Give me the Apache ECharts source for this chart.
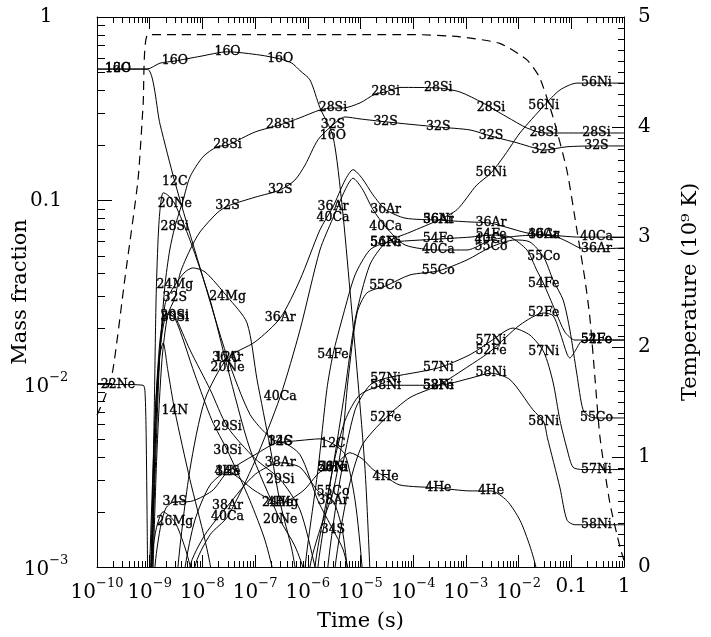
<!DOCTYPE html>
<html><head><meta charset="utf-8">
<script src="https://cdn.jsdelivr.net/npm/echarts@6/dist/echarts.min.js"></script>
<style>html,body{margin:0;padding:0;background:#fff}#c{width:711px;height:637px}</style>
</head><body><div id="c"></div>
<script>
// ---- data: [time (s), mass fraction] ----
const he4 = [[4e-9,0.0006],[4.7e-9,0.001],[7.2e-9,0.0018],[1.4e-8,0.0028],[3e-8,0.0033],[1e-7,0.0026],[3e-7,0.00223],[8.1e-7,0.0026],[1.7e-6,0.0033],[3e-6,0.0035],[6.3e-6,0.0042],[1.07e-5,0.0039],[1.73e-5,0.0034],[3e-5,0.0031],[5.6e-5,0.0028],[3e-4,0.0027],[1.2e-3,0.0026],[3e-3,0.0026],[6e-3,0.0023],[1.06e-2,0.0018],[1.64e-2,0.0013],[2.2e-2,0.00096],[2.8e-2,0.0006]];
const c12 = [[1e-10,0.52],[2.5e-10,0.52],[8.9e-10,0.52],[1.57e-9,0.26],[3e-9,0.126],[9e-9,0.043],[3e-8,0.0138],[8e-8,0.0068],[1.9e-7,0.0051],[3e-7,0.0048],[7.1e-7,0.0049],[1.7e-6,0.005],[3e-6,0.0047],[5.1e-6,0.0041],[7.9e-6,0.0023],[1.07e-5,0.001],[1.3e-5,0.0004]];
const n14 = [[9.3e-10,0.0003],[1e-9,0.001],[1.26e-9,0.0063],[1.5e-9,0.0135],[1.8e-9,0.0167],[2.2e-9,0.0119],[3e-9,0.0071],[5.8e-9,0.003],[1.12e-8,0.0014],[1.52e-8,0.0009],[1.8e-8,0.0005]];
const o16 = [[1e-10,0.52],[2.5e-10,0.52],[8.9e-10,0.52],[1.57e-9,0.56],[3e-9,0.575],[9e-9,0.61],[3e-8,0.646],[1.24e-7,0.62],[3e-7,0.59],[5e-7,0.56],[7.1e-7,0.51],[1.1e-6,0.454],[1.7e-6,0.32],[3e-6,0.224],[4.5e-6,0.092],[6.3e-6,0.0324],[8.9e-6,0.0105],[1.22e-5,0.0034],[1.5e-5,0.001],[1.7e-5,0.0004]];
const ne20 = [[9.3e-10,0.0003],[1.06e-9,0.001],[1.21e-9,0.0063],[1.32e-9,0.0286],[1.44e-9,0.0608],[1.57e-9,0.089],[1.8e-9,0.110],[2.2e-9,0.107],[3e-9,0.0955],[5.8e-9,0.0608],[1.4e-8,0.0286],[3e-8,0.0122],[8e-8,0.0044],[3e-7,0.0018],[5.7e-7,0.0013],[8.9e-7,0.0009],[1.1e-6,0.0005]];
const ne22 = [[1e-10,0.0099],[2.5e-10,0.0099],[7.5e-10,0.0098],[8.1e-10,0.0092],[8.5e-10,0.006],[8.9e-10,0.002],[9.3e-10,0.0005]];
const mg24 = [[9.3e-10,0.0003],[1.1e-9,0.001],[1.26e-9,0.0044],[1.44e-9,0.0105],[1.95e-9,0.027],[3e-9,0.0345],[4.7e-9,0.0407],[6.6e-9,0.0428],[1.12e-8,0.0407],[3e-8,0.0297],[7e-8,0.0215],[1.09e-7,0.0105],[1.9e-7,0.0046],[3e-7,0.00223],[5e-7,0.00124],[6.5e-7,0.0008]];
const mg26 = [[9.5e-10,0.0003],[1.06e-9,0.001],[1.32e-9,0.0016],[1.8e-9,0.002],[3e-9,0.00176],[4.7e-9,0.00127],[6.4e-9,0.0009],[8e-9,0.0005]];
const si28 = [[9.5e-10,0.0002],[1.1e-9,0.001],[1.32e-9,0.0044],[1.57e-9,0.0153],[1.95e-9,0.0345],[2.4e-9,0.0536],[3e-9,0.0716],[4.3e-9,0.10],[5.8e-9,0.134],[1.03e-8,0.173],[1.9e-8,0.196],[3e-8,0.20],[1e-7,0.236],[3e-7,0.258],[7.1e-7,0.282],[1.7e-6,0.311],[3e-6,0.319],[4.7e-6,0.319],[9.8e-6,0.34],[1.9e-5,0.38],[3e-5,0.39],[5.6e-5,0.413],[3e-4,0.41],[7.7e-4,0.39],[2.1e-3,0.34],[3e-3,0.32],[6e-3,0.285],[1.44e-2,0.248],[3e-2,0.233],[6.1e-2,0.233],[0.3,0.233],[1,0.233]];
const si29 = [[9.5e-10,0.0002],[1.1e-9,0.001],[1.32e-9,0.0063],[1.57e-9,0.0153],[1.95e-9,0.0228],[2.4e-9,0.0246],[3e-9,0.0234],[5.8e-9,0.0153],[1.4e-8,0.0093],[3e-8,0.0058],[1e-7,0.0039],[3e-7,0.003],[7.1e-7,0.00205],[1.37e-6,0.001],[1.7e-6,0.0007]];
const si30 = [[9.3e-10,0.0002],[1.06e-9,0.001],[1.26e-9,0.0063],[1.57e-9,0.0173],[2.04e-9,0.024],[3e-9,0.0228],[7.2e-9,0.0112],[1.52e-8,0.0063],[3e-8,0.0043],[8e-8,0.0023],[1.54e-7,0.0014],[2.4e-7,0.00085],[3e-7,0.0006]];
const s32 = [[1e-9,0.0002],[1.16e-9,0.001],[1.38e-9,0.0044],[1.71e-9,0.0135],[2.2e-9,0.0237],[3e-9,0.0294],[3.8e-9,0.0402],[5.8e-9,0.0536],[9e-9,0.0672],[1.9e-8,0.0853],[3e-8,0.093],[1e-7,0.104],[3e-7,0.114],[5.7e-7,0.129],[8.9e-7,0.156],[1.56e-6,0.214],[3e-6,0.258],[5.1e-6,0.285],[9.8e-6,0.278],[3e-5,0.268],[3e-4,0.251],[1.2e-3,0.242],[3e-3,0.224],[9.3e-3,0.206],[1.87e-2,0.194],[3e-2,0.188],[8.3e-2,0.196],[0.3,0.198],[1,0.198]];
const s34 = [[1.1e-9,0.0003],[1.26e-9,0.001],[1.57e-9,0.0016],[2.04e-9,0.0021],[3e-9,0.00227],[5.3e-9,0.00227],[1.52e-8,0.0026],[3e-8,0.0033],[1e-7,0.0041],[3e-7,0.0048],[7.1e-7,0.0041],[1.56e-6,0.0023],[3e-6,0.0016],[4.7e-6,0.00124],[6.3e-6,0.00085],[8e-6,0.0005]];
const ar36 = [[2.8e-9,0.0003],[3.44e-9,0.001],[5.8e-9,0.0034],[1.12e-8,0.0082],[3e-8,0.0138],[1e-7,0.0169],[3e-7,0.0228],[7.1e-7,0.0368],[1.7e-6,0.069],[3e-6,0.092],[5.1e-6,0.129],[7.2e-6,0.147],[1.07e-5,0.132],[1.73e-5,0.107],[3e-5,0.089],[7e-5,0.08],[3e-4,0.078],[1.2e-3,0.0762],[3e-3,0.075],[1.44e-2,0.0664],[3e-2,0.0647],[5.4e-2,0.063],[9.4e-2,0.0586],[0.146,0.055],[0.3,0.0543],[1,0.055]];
const ar38 = [[4.5e-9,0.0003],[5.8e-9,0.001],[1.12e-8,0.0015],[3e-8,0.00215],[1e-7,0.0032],[3e-7,0.0037],[7.1e-7,0.0035],[1.56e-6,0.0026],[3e-6,0.0023],[4.5e-6,0.0016],[5.8e-6,0.0009],[7e-6,0.0005]];
const ca40 = [[5.5e-9,0.0003],[7.2e-9,0.001],[1.4e-8,0.0015],[3e-8,0.00188],[1e-7,0.0038],[3e-7,0.0085],[7.1e-7,0.0196],[1.7e-6,0.0536],[3e-6,0.080],[5.1e-6,0.114],[7.2e-6,0.132],[1.07e-5,0.116],[1.73e-5,0.089],[3e-5,0.0716],[7e-5,0.0571],[3e-4,0.0536],[1.05e-3,0.0536],[3e-3,0.0608],[1.06e-2,0.064],[3e-2,0.0647],[0.146,0.063],[0.3,0.063],[1,0.063]];
const fe52 = [[2.8e-6,0.0004],[3.3e-6,0.001],[5.8e-6,0.0026],[1.07e-5,0.0046],[3e-5,0.0065],[8.7e-5,0.0084],[3e-4,0.0098],[1.2e-3,0.0126],[3e-3,0.0151],[1.06e-2,0.0209],[3e-2,0.0243],[4.5e-2,0.0235],[6.1e-2,0.019],[8.3e-2,0.0145],[9.4e-2,0.0138],[0.117,0.015],[0.16,0.0171],[0.3,0.0173],[1,0.0173]];
const fe54 = [[7.5e-7,0.0004],[8.9e-7,0.001],[1.56e-6,0.0034],[2.3e-6,0.0093],[3e-6,0.0144],[4.7e-6,0.0237],[7.9e-6,0.0392],[1.5e-5,0.0536],[3e-5,0.0586],[3e-4,0.0615],[1.2e-3,0.063],[3e-3,0.0647],[6.9e-3,0.063],[1.44e-2,0.0536],[2.2e-2,0.0417],[3e-2,0.035],[4.9e-2,0.0252],[7.6e-2,0.0191],[0.117,0.0173],[0.3,0.0173],[1,0.0173]];
const co55 = [[9e-7,0.0004],[1.1e-6,0.001],[1.7e-6,0.0016],[3e-6,0.00256],[4.5e-6,0.0049],[5.8e-6,0.0105],[8.6e-6,0.0243],[1.33e-5,0.0313],[3e-5,0.0341],[8.7e-5,0.0392],[3e-4,0.0412],[1.05e-3,0.0473],[3e-3,0.0557],[8.5e-3,0.0608],[1.64e-2,0.0593],[3e-2,0.049],[4.5e-2,0.0368],[7e-2,0.0286],[9.4e-2,0.0196],[0.128,0.0112],[0.167,0.0072],[0.226,0.0066],[0.3,0.0065],[1,0.0065]];
const ni56 = [[1.2e-6,0.0004],[1.37e-6,0.001],[2.1e-6,0.00205],[3e-6,0.0035],[5.1e-6,0.0093],[7.9e-6,0.0223],[1.5e-5,0.0444],[3e-5,0.0586],[8.7e-5,0.067],[3e-4,0.078],[6.8e-4,0.089],[1.6e-3,0.121],[3e-3,0.141],[5.5e-3,0.177],[1.06e-2,0.233],[3e-2,0.327],[6.1e-2,0.40],[0.128,0.436],[0.3,0.436],[1,0.436]];
const ni57 = [[2e-6,0.0004],[2.4e-6,0.001],[4.1e-6,0.003],[7.9e-6,0.0072],[1.5e-5,0.0098],[3e-5,0.0107],[3e-4,0.0122],[1.2e-3,0.0144],[3e-3,0.0171],[7.8e-3,0.0201],[1.64e-2,0.0184],[3e-2,0.0149],[4.5e-2,0.0102],[6.1e-2,0.0063],[8.3e-2,0.0044],[0.108,0.0035],[0.167,0.0034],[0.3,0.0034],[1,0.0034]];
const ni58 = [[1.3e-6,0.0004],[1.56e-6,0.001],[2.1e-6,0.0018],[3e-6,0.0035],[5.1e-6,0.0063],[9.8e-6,0.0087],[3e-5,0.0098],[3e-4,0.0098],[1.2e-3,0.0107],[3e-3,0.0114],[6.9e-3,0.0105],[1.87e-2,0.0072],[3e-2,0.0062],[3.5e-2,0.0051],[6.1e-2,0.0027],[8.3e-2,0.0018],[0.117,0.0017],[0.3,0.0017],[1,0.0017]];
// temperature, 10^9 K
const temperature = [[1e-10,1.38],[1.42e-10,1.55],[2.0e-10,1.79],[3.4e-10,2.63],[6.0e-10,3.52],[7.5e-10,4.2],[9.3e-10,4.84],[1e-4,4.84],[7.7e-4,4.82],[4.4e-3,4.76],[1.44e-2,4.61],[2.5e-2,4.45],[4.5e-2,4.09],[8.3e-2,3.6],[0.128,3.06],[0.182,2.61],[0.226,2.26],[0.28,1.73],[0.35,1.18],[0.54,0.58],[0.84,0.18],[1,0.06]];

const speciesNames = ['4He','12C','14N','16O','20Ne','22Ne','24Mg','26Mg','28Si','29Si','30Si','32S','34S','36Ar','38Ar','40Ca','52Fe','54Fe','55Co','56Ni','57Ni','58Ni'];
const speciesData  = [he4,c12,n14,o16,ne20,ne22,mg24,mg26,si28,si29,si30,s32,s34,ar36,ar38,ca40,fe52,fe54,co55,ni56,ni57,ni58];
const labelTimes = [2.5e-10,3e-9,3e-8,3e-7,3e-6,3e-5,3e-4,3e-3,3e-2,0.3];
const tempTicks = [0,1,2,3,4,5];

// ---- chart ----
const FONT = 'DejaVu Serif';
const chart = echarts.init(document.getElementById('c'));
function expLabel(v){
  const e = Math.round(Math.log10(v));
  if (e === 0) return '1';
  if (e === -1) return '0.1';
  return '{b|10}{s|\u2212' + (-e) + '}';
}
const rich = {
  b:{fontFamily:FONT,fontSize:20,lineHeight:26,verticalAlign:'bottom',color:'#000'},
  s:{fontFamily:FONT,fontSize:13,lineHeight:13,verticalAlign:'top',color:'#000'}
};
const series = [];
speciesData.forEach((d,i)=>{
  series.push({type:'line',name:speciesNames[i],data:d,showSymbol:false,smooth:0.25,
    lineStyle:{color:'#000',width:1},silent:true,z:2,xAxisIndex:0,yAxisIndex:0});
});
const labelPts = [];
speciesData.forEach((d,i)=>{
  d.forEach(p=>{ if (labelTimes.includes(p[0]) && p[1] > 0.0011) labelPts.push({value:p,name:speciesNames[i]}); });
});
series.push({type:'scatter',data:labelPts,symbol:'circle',symbolSize:1,itemStyle:{color:'rgba(0,0,0,0)'},silent:true,z:4,
  xAxisIndex:0,yAxisIndex:0,
  label:{show:true,position:'inside',formatter:p=>p.name,fontFamily:FONT,fontSize:12.5,color:'#000',
    textBorderWidth:0.35,textBorderColor:'#000',opacity:1,align:'center',verticalAlign:'middle'},
  labelLayout:{hideOverlap:false}});
series.push({type:'line',name:'T',data:temperature,xAxisIndex:0,yAxisIndex:1,showSymbol:false,smooth:0.2,silent:true,z:3,
  lineStyle:{color:'#000',width:1.2,type:[9,6]}});
// log minor ticks
const xMinor=[], yMinor=[];
for (let e=-10;e<0;e++) for (let k=2;k<10;k++) xMinor.push(+(k+'e'+e));
for (let e=-3;e<0;e++) for (let k=2;k<10;k++) yMinor.push(+(k+'e'+e));
series.push({type:'custom',silent:true,clip:false,z:6,xAxisIndex:0,yAxisIndex:0,data:xMinor.map(v=>[v,0.01]),
  renderItem:(params,api)=>{const cs=params.coordSys;const x=Math.round(api.coord([api.value(0),api.value(1)])[0])+0.5;
    const b=cs.y+cs.height,t=cs.y;
    return {type:'group',children:[
      {type:'line',shape:{x1:x,y1:b,x2:x,y2:b-6},style:{stroke:'#000',lineWidth:1}},
      {type:'line',shape:{x1:x,y1:t,x2:x,y2:t+6},style:{stroke:'#000',lineWidth:1}}]};}});
series.push({type:'custom',silent:true,clip:false,z:6,xAxisIndex:0,yAxisIndex:0,data:yMinor.map(v=>[1e-5,v]),
  renderItem:(params,api)=>{const cs=params.coordSys;const y=Math.round(api.coord([api.value(0),api.value(1)])[1])+0.5;
    const l=cs.x;
    return {type:'line',shape:{x1:l,y1:y,x2:l+8,y2:y},style:{stroke:'#000',lineWidth:1}};}});

const axLine={show:true,lineStyle:{color:'#000',width:1}};
chart.setOption({
  animation:false,
  backgroundColor:'#fff',
  grid:{left:97,right:87,top:17,bottom:70,containLabel:false,outerBoundsMode:'none'},
  xAxis:[
    {type:'log',logBase:10,min:1e-10,max:1,interval:1,position:'bottom',axisLine:axLine,
     axisTick:{show:true,inside:true,length:12,lineStyle:{color:'#000'}},splitLine:{show:false},
     axisLabel:{formatter:expLabel,rich:rich,fontFamily:FONT,fontSize:20,color:'#000',margin:10,showMinLabel:true,showMaxLabel:true},
     name:'Time (s)',nameLocation:'middle',nameGap:44,nameMoveOverlap:false,nameTextStyle:{fontFamily:FONT,fontSize:21,color:'#000'}},
    {type:'log',logBase:10,min:1e-10,max:1,interval:1,position:'top',axisLine:axLine,
     axisTick:{show:true,inside:true,length:12,lineStyle:{color:'#000'}},splitLine:{show:false},axisLabel:{show:false}}
  ],
  yAxis:[
    {type:'log',logBase:10,min:1e-3,max:1,interval:1,position:'left',axisLine:axLine,
     axisTick:{show:true,inside:true,length:15,lineStyle:{color:'#000'}},splitLine:{show:false},
     axisLabel:{formatter:expLabel,rich:rich,fontFamily:FONT,fontSize:20,color:'#000',margin:51,align:'center',showMinLabel:true,showMaxLabel:true},
     name:'Mass fraction',nameLocation:'middle',nameGap:66,nameRotate:90,nameMoveOverlap:false,nameTextStyle:{fontFamily:FONT,fontSize:21,color:'#000'}},
    {type:'value',min:tempTicks[0],max:tempTicks[tempTicks.length-1],interval:1,position:'right',axisLine:axLine,
     axisTick:{show:true,inside:true,length:12,lineStyle:{color:'#000'}},
     minorTick:{show:true,splitNumber:10,length:6,lineStyle:{color:'#000'}},splitLine:{show:false},
     axisLabel:{fontFamily:FONT,fontSize:20,color:'#000',margin:14},
     name:'Temperature (10\u2079 K)',nameLocation:'middle',nameGap:56,nameRotate:90,nameMoveOverlap:false,nameTextStyle:{fontFamily:FONT,fontSize:21,color:'#000'}}
  ],
  series:series
});
</script></body></html>
